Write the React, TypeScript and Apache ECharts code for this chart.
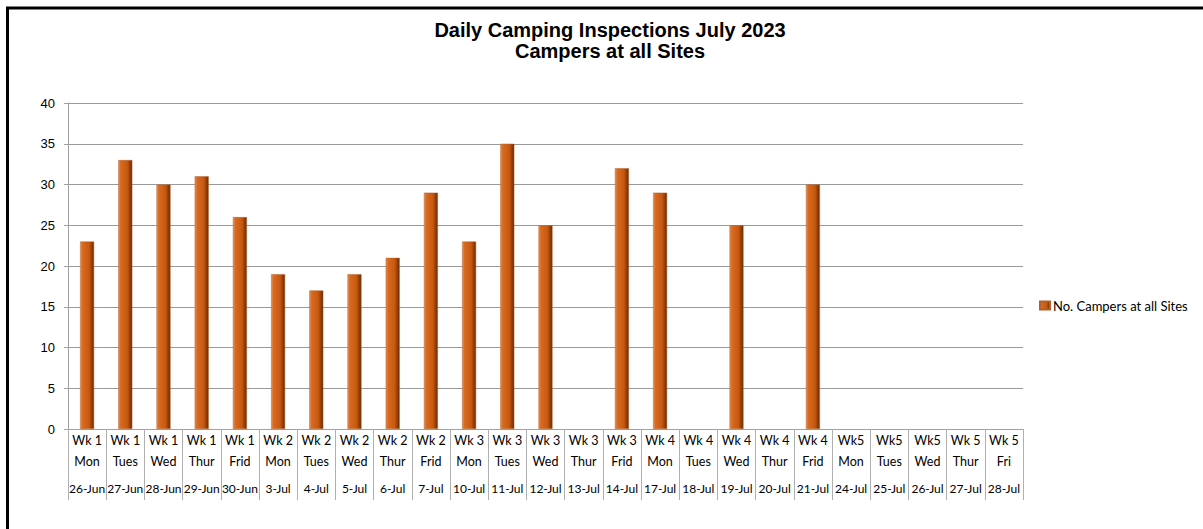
import React, { useEffect, useRef } from "react";
import * as echarts from "echarts";

const weekDays: string[] = [
  "Wk 1\nMon", "Wk 1\nTues", "Wk 1\nWed", "Wk 1\nThur", "Wk 1\nFrid",
  "Wk 2\nMon", "Wk 2\nTues", "Wk 2\nWed", "Wk 2\nThur", "Wk 2\nFrid",
  "Wk 3\nMon", "Wk 3\nTues", "Wk 3\nWed", "Wk 3\nThur", "Wk 3\nFrid",
  "Wk 4\nMon", "Wk 4\nTues", "Wk 4\nWed", "Wk 4\nThur", "Wk 4\nFrid",
  "Wk5\nMon", "Wk5\nTues", "Wk5\nWed", "Wk 5\nThur", "Wk 5\nFri",
];

const dates: string[] = [
  "26-Jun", "27-Jun", "28-Jun", "29-Jun", "30-Jun",
  "3-Jul", "4-Jul", "5-Jul", "6-Jul", "7-Jul",
  "10-Jul", "11-Jul", "12-Jul", "13-Jul", "14-Jul",
  "17-Jul", "18-Jul", "19-Jul", "20-Jul", "21-Jul",
  "24-Jul", "25-Jul", "26-Jul", "27-Jul", "28-Jul",
];

const campers: (number | null)[] = [
  23, 33, 30, 31, 26,
  19, 17, 19, 21, 29,
  23, 35, 25, null, 32,
  29, null, 25, null, 30,
  null, null, null, null, null,
];

const yTicks = { min: 0, max: 40, interval: 5 };

export default function App() {
  const ref = useRef<HTMLDivElement>(null);
  useEffect(() => {
    document.body.style.margin = "0";
    if (!ref.current) return;
    const chart = echarts.init(ref.current, undefined, { renderer: "svg" });
    const labelFont = "Lato, 'Open Sans', sans-serif";
    const barColor = new echarts.graphic.LinearGradient(0, 0, 1, 0, [
      { offset: 0, color: "#e8955a" },
      { offset: 0.15, color: "#d96a22" },
      { offset: 0.65, color: "#c65810" },
      { offset: 1, color: "#6a2a00" },
    ]);
    chart.setOption({
      animation: false,
      backgroundColor: "#ffffff",
      title: {
        text: "Daily Camping Inspections July 2023\nCampers at all Sites",
        left: 605,
        textAlign: "center",
        top: 14,
        textStyle: {
          fontFamily: "'Liberation Sans', Arial, sans-serif",
          fontWeight: "bold",
          fontSize: 20,
          lineHeight: 21,
          color: "#000",
        },
      },
      legend: {
        left: 1034,
        top: 294,
        itemWidth: 10,
        itemHeight: 8,
        icon: "rect",
        textStyle: { fontFamily: labelFont, fontSize: 13, color: "#000", padding: [0, 0, 0, -2] },
        data: ["No. Campers at all Sites"],
      },
      grid: { left: 68, right: 180, top: 103, bottom: 100 },
      xAxis: [
        {
          type: "category",
          data: weekDays,
          position: "bottom",
          axisLine: { lineStyle: { color: "#a0a0a0" } },
          axisTick: { show: true, length: 71, lineStyle: { color: "#b0b0b0" } },
          axisLabel: {
            interval: 0,
            margin: 1,
            fontFamily: labelFont,
            fontSize: 12.5,
            lineHeight: 21,
            color: "#000",
          },
        },
        {
          type: "category",
          data: dates,
          position: "bottom",
          axisLine: { show: false },
          axisTick: { show: false },
          axisLabel: {
            interval: 0,
            margin: 53,
            fontFamily: labelFont,
            fontSize: 12,
            color: "#000",
          },
        },
      ],
      yAxis: {
        type: "value",
        min: yTicks.min,
        max: yTicks.max,
        interval: yTicks.interval,
        axisLine: { show: true, lineStyle: { color: "#a0a0a0" } },
        axisTick: { show: true, length: 4, lineStyle: { color: "#a0a0a0" } },
        splitLine: { lineStyle: { color: "#9a9a9a" } },
        axisLabel: {
          margin: 13,
          fontFamily: "'Liberation Sans', Arial, sans-serif",
          fontSize: 13,
          color: "#000",
        },
      },
      series: [
        {
          name: "No. Campers at all Sites",
          type: "bar",
          data: campers,
          barWidth: 14,
          itemStyle: { color: barColor, borderColor: "#b0602a", borderWidth: 0.5 },
        },
      ],
      graphic: [
        { type: "line", shape: { x1: 7.5, y1: 7, x2: 7.5, y2: 529 }, style: { stroke: "#000", lineWidth: 3 } },
        { type: "line", shape: { x1: 6, y1: 8, x2: 1203, y2: 8 }, style: { stroke: "#000", lineWidth: 3 } },
      ],
    });
    return () => chart.dispose();
  }, []);
  return <div ref={ref} style={{ width: 1203, height: 529 }} />;
}
